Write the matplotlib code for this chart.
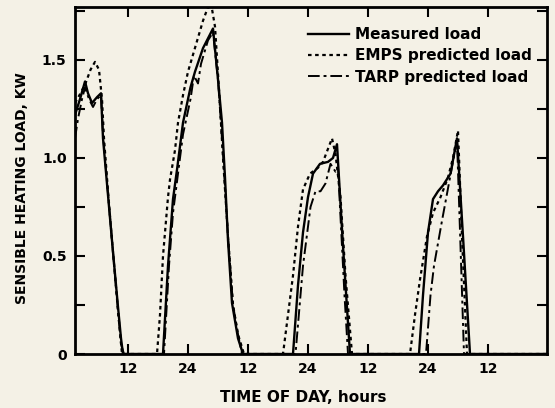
import matplotlib
matplotlib.use("Agg")
import matplotlib.pyplot as plt
from matplotlib.ticker import MultipleLocator

# ---- data (hours, kW) ----
t_meas = [1.4, 2.4, 3.4, 4.0, 4.8, 5.8, 6.6, 7.0, 8.0, 9.0, 10.0, 10.6, 11.0,
          19.0, 20.0, 21.0, 21.8, 23.0, 24.5, 25.4, 27.0, 28.2, 29.0, 30.0, 30.8, 31.4, 32.0, 32.8, 34.0, 35.0,
          45.0, 46.0, 47.0, 48.0, 49.0, 50.4, 52.0, 53.0, 53.8, 55.0, 56.4,
          70.2, 71.0, 72.0, 73.0, 74.0, 75.0, 76.5, 77.8, 79.0, 80.4, 95.8]
v_meas = [1.22, 1.30, 1.39, 1.33, 1.28, 1.31, 1.33, 1.10, 0.81, 0.52, 0.24, 0.08, 0.0,
          0.0, 0.45, 0.79, 0.94, 1.18, 1.36, 1.44, 1.56, 1.62, 1.66, 1.40, 1.18, 0.90, 0.58, 0.26, 0.08, 0.0,
          0.0, 0.35, 0.62, 0.80, 0.92, 0.97, 0.98, 1.00, 1.07, 0.55, 0.0,
          0.0, 0.30, 0.62, 0.79, 0.83, 0.86, 0.92, 1.10, 0.60, 0.0, 0.0]

t_emps = [1.4, 2.5, 3.5, 4.5, 5.4, 6.2, 6.8, 7.2, 8.0, 9.0, 10.0, 10.8,
          17.8, 18.4, 19.0, 20.0, 20.4, 21.4, 22.0, 23.0, 24.0, 25.5, 27.0, 28.0, 28.8, 29.4, 30.2, 31.0, 32.0, 33.0, 34.0, 35.2,
          43.0, 44.0, 45.0, 46.0, 47.0, 48.4, 50.0, 51.0, 52.8, 53.5, 54.5, 55.5, 56.8,
          68.4, 69.4, 70.4, 71.8, 73.0, 74.5, 76.0, 77.0, 78.0, 78.8, 79.8, 95.8]
v_emps = [1.28, 1.33, 1.38, 1.45, 1.49, 1.45, 1.30, 1.10, 0.83, 0.52, 0.22, 0.0,
          0.0, 0.20, 0.50, 0.80, 0.89, 1.04, 1.18, 1.32, 1.44, 1.57, 1.70, 1.77, 1.76, 1.67, 1.35, 1.00, 0.60, 0.25, 0.10, 0.0,
          0.0, 0.20, 0.40, 0.65, 0.84, 0.92, 0.95, 0.98, 1.10, 1.02, 0.80, 0.40, 0.0,
          0.0, 0.20, 0.38, 0.60, 0.72, 0.80, 0.90, 1.00, 1.14, 0.60, 0.0, 0.0]

t_tarp = [1.4, 2.0, 2.8, 3.4, 4.2, 5.0, 5.8, 6.6, 7.0, 8.0, 9.0, 10.0, 10.6, 11.2,
          19.2, 20.2, 21.0, 22.0, 23.0, 24.5, 25.2, 26.0, 26.6, 28.0, 29.0, 30.0, 31.0, 32.0, 33.0, 34.0, 34.8,
          45.5, 47.0, 48.5, 49.5, 50.5, 51.5, 52.5, 53.5, 54.0, 55.3, 56.0,
          71.6, 72.5, 73.2, 74.8, 76.4, 77.8, 78.5, 79.2, 95.8]
v_tarp = [1.10, 1.20, 1.30, 1.36, 1.30, 1.26, 1.30, 1.32, 1.12, 0.82, 0.52, 0.22, 0.05, 0.0,
          0.0, 0.45, 0.72, 0.92, 1.12, 1.30, 1.42, 1.38, 1.48, 1.60, 1.64, 1.40, 1.02, 0.60, 0.25, 0.10, 0.0,
          0.0, 0.45, 0.75, 0.83, 0.83, 0.87, 0.97, 0.93, 0.95, 0.30, 0.0,
          0.0, 0.30, 0.45, 0.68, 0.90, 1.09, 0.55, 0.0, 0.0]

x_ticks = [12, 24, 36, 48, 60, 72, 84]
x_tick_labels = ['12', '24', '12', '24', '12', '24', '12']
y_ticks = [0, 0.5, 1.0, 1.5]
y_tick_labels = ['0', '0.5', '1.0', '1.5']
series_labels = ['Measured load', 'EMPS predicted load', 'TARP predicted load']

bg = '#f4f1e6'
plt.rcParams['font.family'] = ['DejaVu Sans']
plt.rcParams['font.weight'] = 'bold'

fig = plt.figure(figsize=(5.55, 4.08), dpi=100, facecolor=bg)
ax = fig.add_axes([75/555, 1-354/408, 472/555, 347/408], facecolor=bg)

ax.plot(t_meas, v_meas, color='black', lw=1.7, ls='-', label=series_labels[0])
ax.plot(t_emps, v_emps, color='black', lw=1.6, ls=(0, (1.6, 1.6)), label=series_labels[1])
ax.plot(t_tarp, v_tarp, color='black', lw=1.4, ls=(0, (6, 2, 1.5, 2)), label=series_labels[2])

ax.set_xlim(1.4, 95.8)
ax.set_ylim(0, 1.77)
ax.set_xticks(x_ticks)
ax.set_xticklabels(x_tick_labels)
ax.set_yticks(y_ticks)
ax.set_yticklabels(y_tick_labels)
ax.yaxis.set_minor_locator(MultipleLocator(0.25))

ax.tick_params(axis='both', which='both', direction='in', top=True, right=True,
               width=1.5, color='black', labelsize=10)
ax.tick_params(axis='both', which='major', length=7, pad=6)
ax.tick_params(axis='y', which='minor', length=7)
for s in ax.spines.values():
    s.set_linewidth(2)

ax.set_xlabel('TIME OF DAY, hours', fontsize=11, fontweight='bold')
ax.xaxis.set_label_coords((303-75)/472, -(397-354)/347)
ax.xaxis.label.set_va('center')
ax.set_ylabel('SENSIBLE HEATING LOAD, KW', fontsize=10, fontweight='bold')
ax.yaxis.set_label_coords(-(75-22)/472, (354-188)/347)
ax.yaxis.label.set_va('center')

leg = ax.legend(loc='upper right', bbox_to_anchor=((532-75)/472, (354-27)/347),
                frameon=False, fontsize=11, handlelength=2.7, handletextpad=0.4,
                labelspacing=0.42, borderaxespad=0, borderpad=0)

fig.savefig('out.png', dpi=100, facecolor=bg)
